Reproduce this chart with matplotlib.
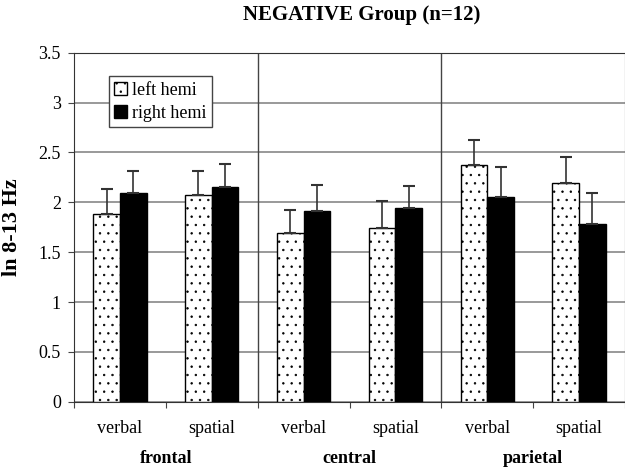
import numpy as np
import matplotlib
matplotlib.use('Agg')
import matplotlib.pyplot as plt
from matplotlib.patches import Patch

plt.rcParams['font.family'] = ['Liberation Serif', 'DejaVu Serif']
plt.rcParams['hatch.linewidth'] = 0.5

# data
conditions = ['verbal', 'spatial', 'verbal', 'spatial', 'verbal', 'spatial']
regions = ['frontal', 'central', 'parietal']
left_hemi = [1.88, 2.07, 1.69, 1.74, 2.37, 2.19]
left_err = [0.25, 0.24, 0.23, 0.27, 0.25, 0.26]
right_hemi = [2.09, 2.15, 1.91, 1.94, 2.05, 1.78]
right_err = [0.22, 0.23, 0.26, 0.22, 0.30, 0.31]

fig = plt.figure(figsize=(6.25, 4.69), dpi=100)
ax = fig.add_axes([0.1184, 0.1435, 0.8816, 0.744])

x = np.arange(len(conditions))
w = 0.29
ax.bar(x - w/2, left_hemi, w, color='white', edgecolor='black', hatch='..',
       linewidth=1.0, zorder=3)
ax.bar(x + w/2, right_hemi, w, color='black', edgecolor='black', linewidth=1.0,
       zorder=3)
ax.errorbar(x - w/2, left_hemi, yerr=[np.zeros(6), left_err], fmt='none',
            ecolor='#333333', elinewidth=1.2, capsize=4, capthick=1.5, zorder=4)
ax.errorbar(x + w/2, right_hemi, yerr=[np.zeros(6), right_err], fmt='none',
            ecolor='#333333', elinewidth=1.2, capsize=4, capthick=1.5, zorder=4)

ax.set_xlim(-0.5, 5.5)
ax.set_ylim(0, 3.5)
ax.set_yticks(np.arange(0, 3.51, 0.5))
ax.set_yticklabels(['0', '0.5', '1', '1.5', '2', '2.5', '3', '3.5'], fontsize=13)
ax.yaxis.grid(True, color='#888888', linewidth=1.2, zorder=0)
ax.set_axisbelow(True)

# separators between regions
for b in [1.5, 3.5]:
    ax.axvline(b, color='#444444', linewidth=1.0, zorder=1)

ax.set_xticks(np.arange(-0.5, 5.6, 1.0))
ax.set_xticklabels([])
ax.tick_params(axis='x', direction='out', length=4.5, color='#444444')
ax.tick_params(axis='y', direction='out', length=4.5, color='#444444', pad=5)

for xi, c in zip(x, conditions):
    ax.text(xi, -0.264, c, ha='center', va='center', fontsize=13)
for i, r in enumerate(regions):
    ax.text(2*i + 0.5, -0.565, r, ha='center', va='center', fontsize=13,
            fontweight='bold')

for s in ax.spines.values():
    s.set_color('#333333')

ax.set_ylabel('ln 8-13 Hz', fontsize=16, fontweight='bold', labelpad=12)
fig.text(0.579, 0.967, 'NEGATIVE Group (n=12)', ha='center', va='center',
         fontsize=15, fontweight='bold')

handles = [Patch(facecolor='white', edgecolor='black', hatch='..'),
           Patch(facecolor='black', edgecolor='black')]
leg = ax.legend(handles, ['left hemi', 'right hemi'], loc='upper left',
                bbox_to_anchor=(0.0635, 0.933), fontsize=13, fancybox=False,
                framealpha=1, edgecolor='#444444', handlelength=0.7,
                handleheight=0.7, handletextpad=0.3, borderpad=0.3,
                labelspacing=0.35, borderaxespad=0)
leg.get_frame().set_linewidth(1.0)

plt.savefig('out.png', dpi=100)
